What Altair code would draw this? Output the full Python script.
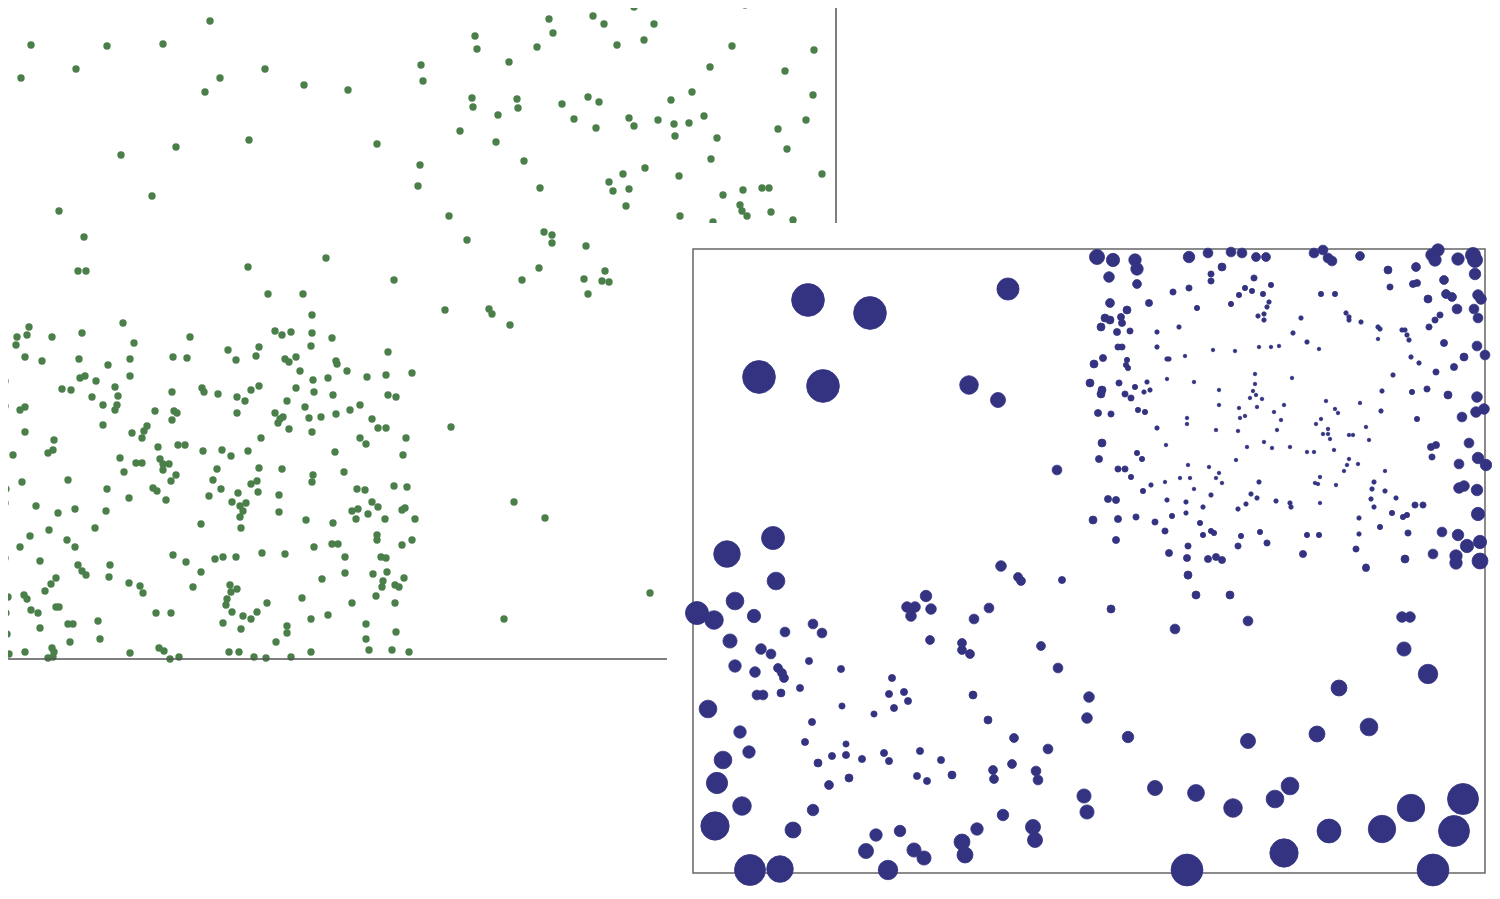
import altair as alt
import pandas as pd

# ---------------- green panel (back) : point positions ----------------
green_x = [
    # upper-left sparse
    52, 314, 210, 31, 107, 163, 21, 76, 220, 205,
    265, 304, 348, 421, 423, 249, 176, 121, 377, 420,
    418, 152, 59, 84, 78, 86, 248, 326, 394, 268, 303,
    # upper-right scatter
    630, 634, 745, 776, 549, 593, 604, 654, 553, 475,
    477, 537, 617, 644, 732, 814, 509, 710, 785, 692,
    813, 472, 473, 517, 518, 498, 562, 588, 599, 671,
    574, 596, 629, 634, 658, 674, 689, 704, 675, 806,
    778, 460, 496, 717, 787, 524, 711, 645, 623, 679,
    822, 609, 613, 629, 540, 723, 743, 762, 769, 740,
    742, 747, 771, 626, 680, 713, 793, 449, 467, 544,
    552, 552, 586, 539, 522, 584, 605, 602, 609, 588,
    445, 489, 492, 510, 451, 514, 545, 504, 650,
    # lower-left dense block
    312, 123, 3, 29, 27, 17, 16, 52, 82, 190,
    134, 275, 282, 291, 312, 332, 3, 25, 42, 79,
    130, 173, 187, 228, 236, 259, 256, 311, 285, 289,
    296, 336, 337, 388, 108, 300, 347, 412, 386, 367,
    130, 80, 85, 96, 5, 115, 313, 328, 62, 71,
    92, 118, 172, 202, 204, 218, 251, 259, 296, 314,
    333, 388, 396, 237, 245, 287, 5, 20, 25, 103,
    117, 115, 155, 174, 177, 172, 237, 275, 280, 283,
    278, 305, 309, 321, 336, 350, 360, 372, 378, 386,
    406, 103, 25, 3, 289, 312, 132, 142, 144, 147,
    261, 360, 366, 54, 53, 48, 13, 158, 178, 185,
    203, 222, 231, 248, 335, 403, 120, 136, 142, 160,
    163, 169, 163, 176, 171, 124, 217, 213, 259, 282,
    344, 313, 312, 68, 22, 0, 6, 107, 153, 157,
    221, 251, 257, 258, 357, 365, 394, 407, 5, 36,
    129, 166, 209, 238, 232, 240, 246, 243, 240, 279,
    279, 58, 75, 106, 372, 378, 352, 358, 356, 368,
    402, 405, 415, 385, 306, 333, 201, 241, 95, 49,
    30, 67, 75, 20, 377, 377, 412, 332, 338, 402,
    314, 5, 173, 186, 215, 223, 236, 262, 285, 345,
    381, 386, 40, 78, 82, 86, 110, 109, 201, 387,
    373, 345, 3, 8, 56, 51, 45, 129, 140, 143,
    193, 230, 237, 231, 322, 383, 382, 395, 399, 404,
    24, 27, 227, 226, 267, 302, 352, 376, 395, 3,
    6, 31, 38, 56, 59, 156, 171, 232, 243, 251,
    257, 98, 68, 73, 223, 311, 328, 287, 287, 366,
    241, 40, 396, 7, 100, 70, 366, 276, 9, 25,
    52, 54, 48, 53, 130, 159, 164, 170, 179, 229,
    239, 254, 266, 291, 311, 369, 392, 409,
]
green_y = [
    3, 4, 21, 45, 46, 44, 78, 69, 78, 92,
    69, 85, 90, 65, 81, 140, 147, 155, 144, 165,
    186, 196, 211, 237, 271, 271, 267, 258, 280, 294, 294,
    2, 7, 5, 3, 19, 16, 24, 24, 33, 36,
    49, 47, 45, 40, 46, 50, 62, 67, 71, 92,
    95, 98, 107, 99, 108, 115, 104, 97, 102, 100,
    119, 128, 118, 126, 120, 124, 123, 116, 136, 120,
    129, 131, 142, 138, 149, 161, 159, 168, 174, 176,
    174, 182, 191, 189, 188, 195, 190, 188, 188, 205,
    211, 216, 212, 206, 216, 222, 220, 216, 240, 232,
    235, 243, 246, 268, 280, 279, 271, 281, 282, 294,
    310, 309, 314, 325, 427, 502, 518, 619, 593,
    315, 323, 331, 327, 335, 337, 345, 337, 333, 337,
    343, 331, 335, 332, 333, 338, 351, 357, 361, 359,
    359, 357, 358, 350, 360, 347, 356, 346, 359, 362,
    357, 361, 364, 352, 365, 371, 371, 373, 375, 377,
    376, 378, 376, 381, 381, 387, 380, 378, 389, 390,
    397, 396, 392, 388, 392, 394, 390, 386, 388, 392,
    395, 395, 397, 397, 401, 401, 406, 410, 407, 405,
    405, 410, 411, 411, 413, 420, 413, 413, 419, 417,
    423, 407, 418, 417, 414, 410, 405, 419, 428, 428,
    438, 425, 432, 439, 429, 432, 433, 438, 431, 426,
    438, 438, 444, 440, 450, 453, 455, 447, 445, 445,
    451, 450, 456, 451, 452, 455, 458, 463, 463, 459,
    464, 464, 470, 475, 481, 472, 469, 480, 468, 469,
    472, 475, 482, 480, 482, 490, 489, 489, 488, 491,
    489, 484, 481, 492, 489, 490, 486, 487, 503, 506,
    498, 500, 496, 493, 502, 506, 503, 511, 517, 495,
    512, 513, 509, 511, 502, 507, 511, 509, 519, 514,
    510, 508, 519, 519, 520, 523, 524, 528, 528, 530,
    536, 540, 547, 547, 535, 540, 540, 544, 544, 545,
    547, 558, 555, 562, 559, 557, 557, 553, 554, 557,
    557, 558, 561, 565, 571, 575, 565, 577, 572, 572,
    574, 573, 587, 597, 578, 584, 591, 583, 586, 593,
    587, 585, 589, 592, 579, 581, 587, 585, 587, 578,
    595, 599, 599, 605, 603, 598, 603, 596, 603, 607,
    613, 610, 613, 607, 607, 613, 613, 612, 616, 619,
    612, 621, 624, 624, 623, 619, 615, 626, 633, 624,
    629, 628, 632, 634, 639, 642, 639, 642, 654, 652,
    648, 652, 658, 657, 653, 648, 651, 659, 657, 652,
    652, 657, 658, 657, 652, 650, 650, 652,
]

# ---------------- blue panel (front) : positions and circle diameters ----------------
blue_x = [
    808, 870, 759, 823, 1008, 969, 998, 1057, 773, 727,
    776, 735, 697, 714, 754, 730, 761, 771, 785, 813,
    822, 735, 755, 778, 782, 784, 809, 757, 763, 781,
    800, 841, 708, 842, 892, 889, 904, 908, 894, 874,
    740, 749, 723, 812, 805, 846, 832, 846, 818, 862,
    884, 889, 920, 941, 917, 927, 952, 829, 849, 717,
    742, 813, 715, 793, 750, 780, 876, 900, 866, 914,
    924, 888, 962, 965, 977, 1003, 1033, 1035, 1084, 1087,
    926, 931, 907, 915, 911, 930, 962, 962, 970, 974,
    989, 1001, 1018, 1021, 1062, 1041, 1058, 973, 1089, 1087,
    988, 1014, 1048, 1012, 993, 994, 1036, 1038,
    1188, 1196, 1230, 1111, 1175, 1248, 1366, 1402, 1410, 1404,
    1428, 1339, 1128, 1248, 1317, 1369, 1155, 1196, 1233, 1290,
    1275, 1329, 1382, 1411, 1463, 1454, 1284, 1187, 1433,
    1097, 1113, 1135, 1137, 1109, 1137, 1189, 1208, 1231, 1242,
    1256, 1266, 1222, 1211, 1211, 1173, 1189, 1254, 1245, 1252,
    1239, 1271, 1263, 1269, 1267, 1258, 1264, 1264, 1231, 1197,
    1314, 1323, 1328, 1332, 1360, 1388, 1390, 1416, 1413, 1417,
    1432, 1438, 1435, 1458, 1473, 1475, 1475, 1444, 1446, 1452,
    1428, 1457, 1478, 1481, 1474, 1478, 1440, 1435, 1429, 1444,
    1477, 1485, 1464, 1454, 1436, 1411, 1419, 1402, 1405, 1407,
    1409, 1378, 1380, 1378, 1361, 1346, 1349, 1349, 1321, 1335,
    1301, 1293, 1307, 1319, 1271, 1279, 1259, 1235, 1213, 1185,
    1179, 1157, 1157, 1167, 1169, 1149, 1110, 1127, 1105, 1110,
    1121, 1122, 1101, 1117, 1130, 1118, 1122, 1103, 1094, 1127,
    1126, 1128, 1090, 1102, 1101, 1119, 1125, 1131, 1135, 1147,
    1144, 1150, 1167, 1194, 1098, 1111, 1138, 1145, 1157, 1187,
    1187, 1219, 1219, 1255, 1255, 1253, 1256, 1250, 1257, 1262,
    1292, 1239, 1240, 1245, 1216, 1238, 1274, 1284, 1281, 1277,
    1264, 1272, 1247, 1290, 1236, 1326, 1335, 1338, 1321, 1316,
    1328, 1323, 1328, 1330, 1349, 1353, 1366, 1369, 1360, 1382,
    1381, 1393, 1412, 1427, 1417, 1448, 1477, 1462, 1476, 1484,
    1469, 1431, 1436, 1432, 1459, 1478, 1486, 1459, 1464, 1477,
    1478, 1442, 1458, 1467, 1480, 1456, 1456, 1480, 1433, 1405,
    1366, 1356, 1359, 1359, 1380, 1408, 1392, 1403, 1407, 1415,
    1423, 1396, 1385, 1385, 1374, 1372, 1371, 1374, 1349, 1347,
    1344, 1358, 1334, 1307, 1314, 1320, 1315, 1318, 1336, 1320,
    1307, 1319, 1303, 1290, 1291, 1276, 1260, 1267, 1241, 1238,
    1246, 1238, 1251, 1257, 1259, 1211, 1222, 1219, 1216, 1209,
    1188, 1190, 1180, 1194, 1165, 1151, 1143, 1131, 1118, 1125,
    1137, 1142, 1099, 1102, 1166, 1167, 1186, 1203, 1172, 1186,
    1200, 1203, 1211, 1214, 1188, 1165, 1155, 1136, 1118, 1108,
    1116, 1093, 1116, 1169, 1187, 1208, 1216, 1222, 1188,
]
blue_y = [
    300, 313, 377, 386, 289, 385, 400, 470, 538, 554,
    581, 601, 613, 620, 616, 641, 649, 654, 632, 624,
    633, 666, 672, 668, 673, 678, 661, 695, 695, 693,
    688, 669, 709, 706, 678, 694, 692, 701, 708, 714,
    732, 752, 760, 722, 742, 744, 756, 755, 763, 759,
    753, 761, 751, 760, 776, 781, 775, 785, 778, 783,
    806, 810, 826, 830, 870, 869, 835, 831, 851, 850,
    858, 870, 842, 855, 829, 815, 827, 840, 796, 812,
    596, 609, 607, 607, 616, 640, 643, 650, 654, 619,
    608, 566, 577, 581, 580, 646, 668, 695, 697, 718,
    720, 738, 749, 764, 770, 779, 771, 780,
    576, 595, 595, 609, 629, 621, 567, 617, 617, 649,
    674, 688, 737, 741, 734, 727, 788, 793, 808, 786,
    799, 831, 829, 808, 799, 831, 853, 870, 870,
    257, 260, 260, 269, 277, 284, 257, 253, 252, 253,
    257, 257, 267, 274, 281, 292, 288, 278, 288, 291,
    295, 285, 294, 302, 307, 316, 314, 320, 304, 308,
    253, 250, 258, 261, 256, 270, 287, 267, 284, 283,
    255, 250, 260, 259, 255, 260, 274, 280, 294, 297,
    299, 309, 295, 299, 309, 318, 315, 320, 327, 343,
    346, 355, 357, 367, 372, 357, 363, 330, 330, 335,
    340, 327, 329, 339, 322, 313, 317, 320, 294, 294,
    318, 333, 342, 349, 347, 346, 347, 351, 350, 356,
    327, 332, 347, 359, 359, 303, 303, 310, 318, 320,
    317, 323, 327, 332, 331, 347, 347, 358, 364, 360,
    365, 368, 383, 390, 394, 383, 394, 398, 387, 382,
    392, 390, 379, 382, 413, 414, 410, 412, 428, 418,
    424, 390, 405, 374, 384, 391, 395, 398, 407, 399,
    378, 408, 418, 416, 430, 431, 412, 405, 420, 430,
    442, 448, 447, 447, 460, 401, 409, 413, 419, 424,
    429, 434, 434, 439, 435, 435, 427, 440, 403, 391,
    411, 375, 392, 389, 419, 395, 397, 417, 412, 409,
    443, 447, 445, 457, 464, 458, 465, 488, 486, 490,
    514, 532, 535, 546, 542, 556, 563, 561, 554, 559,
    568, 549, 534, 518, 527, 533, 513, 517, 515, 505,
    505, 498, 471, 491, 482, 489, 499, 507, 459, 465,
    471, 464, 450, 452, 452, 477, 483, 484, 485, 503,
    535, 535, 554, 503, 507, 501, 532, 543, 536, 546,
    504, 509, 494, 498, 482, 495, 483, 473, 478, 467,
    465, 478, 478, 489, 482, 485, 491, 477, 469, 469,
    453, 459, 459, 443, 445, 500, 502, 507, 516, 513,
    523, 535, 531, 533, 546, 531, 522, 517, 519, 499,
    500, 520, 540, 553, 558, 559, 557, 560, 575,
]
blue_d = [
    37, 37, 37, 37, 25, 21, 17, 11, 26, 30,
    20, 20, 26, 21, 15, 16, 12, 11, 11, 11,
    11, 14, 12, 10, 10, 10, 8, 11, 11, 9,
    8, 8, 20, 7, 8, 8, 8, 8, 8, 7,
    14, 14, 20, 8, 8, 7, 8, 8, 9, 8,
    8, 8, 8, 8, 8, 8, 9, 10, 9, 24,
    21, 13, 32, 18, 35, 30, 14, 13, 17, 16,
    16, 22, 18, 18, 14, 13, 17, 17, 16, 16,
    13, 12, 12, 12, 12, 10, 10, 10, 10, 11,
    11, 12, 10, 10, 8, 10, 11, 9, 12, 12,
    9, 10, 11, 10, 10, 10, 11, 11,
    7, 9, 9, 9, 11, 11, 7, 12, 12, 16,
    22, 18, 13, 17, 18, 20, 17, 19, 21, 20,
    20, 27, 31, 31, 35, 35, 32, 36, 36,
    17, 15, 14, 14, 12, 10, 13, 11, 11, 11,
    10, 10, 9, 7, 7, 7, 7, 7, 6, 6,
    6, 6, 6, 5, 5, 5, 5, 5, 6, 6,
    11, 11, 11, 11, 10, 9, 7, 10, 8, 8,
    14, 14, 14, 14, 17, 17, 13, 10, 10, 10,
    9, 11, 12, 12, 11, 11, 7, 7, 7, 8,
    11, 11, 9, 8, 7, 5, 5, 5, 5, 5,
    5, 5, 5, 4, 5, 5, 5, 5, 6, 6,
    5, 5, 5, 4, 4, 4, 4, 4, 4, 4,
    5, 5, 5, 5, 5, 8, 10, 9, 9, 9,
    8, 8, 9, 8, 7, 7, 7, 8, 9, 6,
    6, 6, 9, 9, 9, 7, 7, 7, 6, 5,
    5, 5, 4, 4, 8, 7, 6, 6, 5, 4,
    4, 4, 4, 4, 4, 4, 4, 4, 4, 4,
    4, 4, 4, 4, 4, 4, 4, 4, 4, 4,
    4, 4, 4, 4, 4, 4, 4, 4, 4, 4,
    4, 4, 4, 4, 4, 4, 4, 4, 4, 5,
    5, 5, 6, 7, 6, 9, 12, 11, 12, 12,
    11, 8, 8, 7, 11, 13, 13, 12, 12, 13,
    15, 11, 13, 15, 15, 14, 14, 18, 11, 9,
    8, 7, 5, 5, 6, 7, 6, 6, 6, 7,
    7, 5, 4, 5, 5, 5, 5, 5, 4, 4,
    4, 4, 4, 4, 4, 4, 4, 4, 4, 4,
    6, 6, 8, 5, 5, 5, 6, 7, 6, 7,
    5, 5, 5, 5, 5, 5, 4, 4, 4, 4,
    4, 4, 4, 4, 4, 5, 6, 6, 7, 7,
    6, 6, 8, 9, 4, 5, 5, 5, 6, 5,
    6, 6, 6, 6, 7, 7, 7, 7, 8, 8,
    8, 9, 8, 8, 8, 8, 8, 8, 9,
]

assert len(green_x) == len(green_y)
assert len(blue_x) == len(blue_y) == len(blue_d)

green = pd.DataFrame({"x": green_x, "y": green_y})
blue = pd.DataFrame({"x": blue_x, "y": blue_y, "d": blue_d})
one = pd.DataFrame({"k": [0]})

W, H = 1484, 883
M = 8  # page margin

GREEN = "#4a7f4a"
BLUE = "#343382"

green_pts = alt.Chart(green).mark_circle(color=GREEN, opacity=1, size=54).encode(
    x=alt.X("x:Q", axis=None,
            scale=alt.Scale(domain=[0, 836], range=[-M, 836 - M], zero=False, nice=False)),
    y=alt.Y("y:Q", axis=None,
            scale=alt.Scale(domain=[0, 660], range=[-M, 660 - M], zero=False, nice=False)),
)

green_right = alt.Chart(one).mark_rule(color="#555555", strokeWidth=1.5).encode(
    x=alt.value(836 - M), y=alt.value(-M), y2=alt.value(660 - M)
)
green_bottom = alt.Chart(one).mark_rule(color="#555555", strokeWidth=1.5).encode(
    x=alt.value(-M), x2=alt.value(836 - M), y=alt.value(659 - M)
)

card = alt.Chart(one).mark_rect(color="white").encode(
    x=alt.value(667 - M), x2=alt.value(W), y=alt.value(223 - M), y2=alt.value(H)
)

box = alt.Chart(one).mark_rect(fill="white", stroke="#666666", strokeWidth=1.5).encode(
    x=alt.value(693 - M), x2=alt.value(1485 - M), y=alt.value(249 - M), y2=alt.value(873 - M)
)

blue_pts = alt.Chart(blue).mark_circle(
    color=BLUE, opacity=1, stroke=BLUE, strokeWidth=0.8
).encode(
    x=alt.X("x:Q", axis=None,
            scale=alt.Scale(domain=[693, 1485], range=[693 - M, 1485 - M], zero=False, nice=False)),
    y=alt.Y("y:Q", axis=None,
            scale=alt.Scale(domain=[249, 873], range=[249 - M, 873 - M], zero=False, nice=False)),
    size=alt.Size("d:Q", legend=None,
                  scale=alt.Scale(type="pow", exponent=2, domain=[0, 40], range=[0, 1256.6])),
)

chart = (
    alt.layer(green_pts, green_right, green_bottom, card, box, blue_pts)
    .resolve_scale(x="independent", y="independent")
    .properties(width=W, height=H, autosize=alt.AutoSizeParams(type="none"), padding=0)
    .configure_view(stroke=None)
)

chart.save("out.html", embed_options={"renderer": "svg", "actions": False})
